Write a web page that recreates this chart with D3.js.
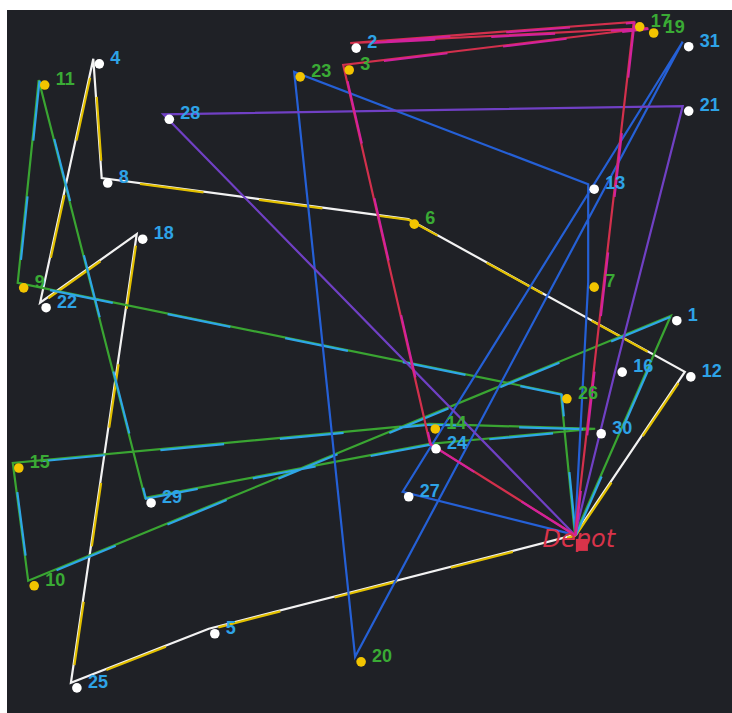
<!DOCTYPE html>
<html>
<head>
<meta charset="utf-8">
<script src="https://cdn.jsdelivr.net/npm/d3@7"></script>
<style>
  html, body { margin: 0; padding: 0; background: #ffffff; }
  svg { display: block; }
</style>
</head>
<body>
<script>
// Customer locations (grid units); id 0 is the depot
const nodeIds   = [0, 1, 2, 3, 4, 5, 6, 7, 8, 9, 10, 11, 12, 13, 14, 15, 16, 17, 18, 19, 20, 21, 22, 23, 24, 25, 26, 27, 28, 29, 30, 31];
const nodeX     = [80.7, 94.4, 48.6, 47.6, 11.9, 28.4, 56.9, 82.6, 13.1, 1.1, 2.6, 4.1, 96.4, 82.6, 59.9, 0.4, 86.6, 89.1, 18.1, 91.1, 49.3, 96.1, 4.3, 40.6, 60.0, 8.7, 78.7, 56.1, 21.9, 19.3, 83.6, 96.1];
const nodeY     = [24.1, 56.1, 95.9, 92.7, 93.6, 10.4, 70.2, 61.0, 76.2, 60.9, 17.4, 90.5, 47.9, 75.3, 40.3, 34.6, 48.6, 99.0, 68.0, 98.1, 6.3, 86.7, 58.0, 91.7, 37.4, 2.5, 44.7, 30.4, 85.5, 29.5, 39.6, 96.1];
// "p" = white marker / blue label, "d" = yellow marker / green label
const nodeKind  = ["depot", "p", "p", "d", "p", "p", "d", "d", "p", "d", "d", "d", "p", "p", "d", "d", "p", "d", "p", "d", "d", "p", "p", "d", "p", "p", "d", "p", "p", "p", "p", "p"];

// Vehicle tours as sequences of node ids
const routeStops = [
  [0, 12, 6, 8, 4, 22, 18, 25, 5, 0],
  [0, 26, 9, 11, 29, 24, 30, 14, 15, 10, 1, 0],
  [0, 27, 31, 20, 23, 13, 7, 0],
  [0, 28, 21, 16, 0],
  [0, 24, 3, 19, 2, 17, 0]
];
// Each tour: base colour and (optional) second tone
const routeColors = [
  ["#f2f2f2", "#e2c000"],
  ["#3aa532", "#2ea6e6"],
  ["#2560d6", null],
  ["#7040c4", null],
  ["#d2304c", "#d2229c"]
];

const W = 732, H = 713;
const svg = d3.select("body").append("svg").attr("width", W).attr("height", H);

// Plot panel
svg.append("rect").attr("x", 7).attr("y", 10).attr("width", W - 7).attr("height", H - 10).attr("fill", "#1f2126");

const x = d3.scaleLinear().domain([0, 100]).range([10, 710]);
const y = d3.scaleLinear().domain([0, 100]).range([700, 15]);

const nodes = nodeIds.map((id, i) => ({ id, x: nodeX[i], y: nodeY[i], kind: nodeKind[i] }));
const byId = new Map(nodes.map(n => [n.id, n]));

const line = d3.line().x(d => x(d.x)).y(d => y(d.y));

const routesG = svg.append("g").attr("fill", "none").attr("stroke-width", 2.2).attr("stroke-linejoin", "miter");
routeStops.forEach((stops, i) => {
  const pts = stops.map(id => byId.get(id));
  const [c1, c2] = routeColors[i];
  routesG.append("path").attr("d", line(pts)).attr("stroke", c1);
  if (c2) {
    routesG.append("path").attr("d", line(pts)).attr("stroke", c2)
      .attr("transform", "translate(0.8,0.8)")
      .attr("stroke-dasharray", "64 56");
  }
});

// Customer markers sit a few pixels below-right of the tour vertices
const custs = nodes.filter(n => n.kind !== "depot");
const markG = svg.append("g").attr("transform", "translate(6,5)");
markG.selectAll("circle").data(custs).join("circle")
  .attr("cx", d => x(d.x)).attr("cy", d => y(d.y)).attr("r", 4.8)
  .attr("fill", d => d.kind === "p" ? "#ffffff" : "#f2c400");

const labelG = svg.append("g").attr("transform", "translate(17,5)");
labelG.selectAll("text").data(custs).join("text")
  .attr("x", d => x(d.x)).attr("y", d => y(d.y))
  .attr("font-family", "'Liberation Sans', Arial, sans-serif")
  .attr("font-weight", "bold").attr("font-size", 18)
  .attr("fill", d => d.kind === "p" ? "#2ea3e6" : "#3aab35")
  .text(d => d.id);

// Depot
const dep = byId.get(0);
svg.append("rect")
  .attr("x", x(dep.x) + 1).attr("y", y(dep.y) + 4).attr("width", 12).attr("height", 12)
  .attr("fill", "#d8334a");
svg.append("text")
  .attr("x", x(dep.x) + 4).attr("y", y(dep.y) + 12)
  .attr("text-anchor", "middle")
  .attr("font-family", "'DejaVu Sans', sans-serif").attr("font-style", "italic")
  .attr("font-size", 24).attr("fill", "#d8334a")
  .text("Depot");
</script>
</body>
</html>
